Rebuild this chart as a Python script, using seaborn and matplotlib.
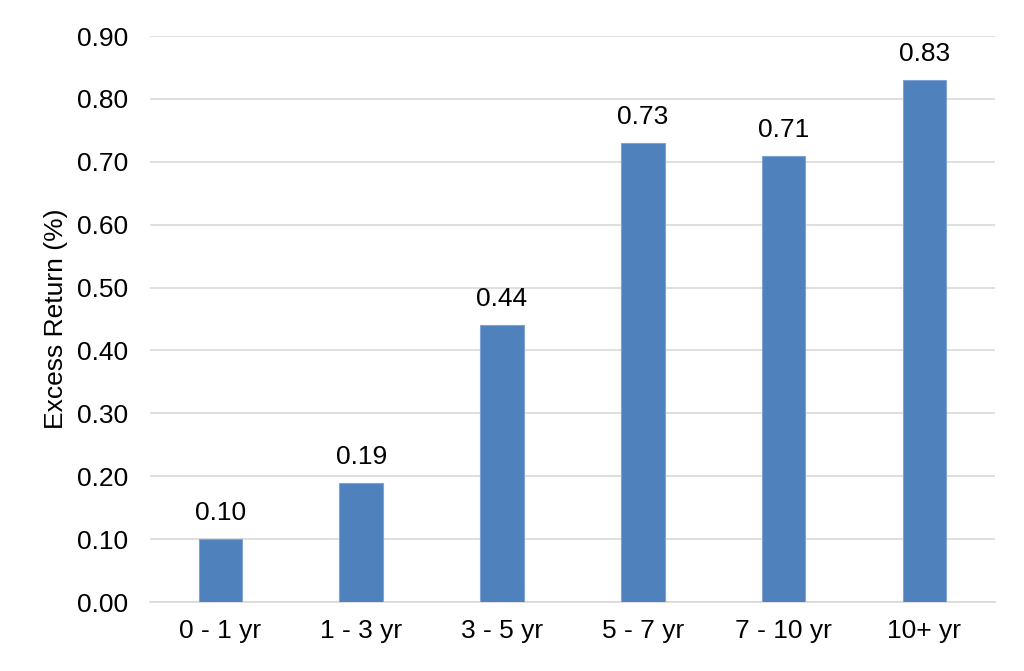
import matplotlib
matplotlib.use("Agg")
import matplotlib.pyplot as plt
import seaborn as sns
import pandas as pd

# ── data ─────────────────────────────────────────────────────────────────────
categories = ["0 - 1 yr", "1 - 3 yr", "3 - 5 yr", "5 - 7 yr", "7 - 10 yr", "10+ yr"]
excess_return = [0.10, 0.19, 0.44, 0.73, 0.71, 0.83]
y_ticks = [0.0, 0.1, 0.2, 0.3, 0.4, 0.5, 0.6, 0.7, 0.8, 0.9]

df = pd.DataFrame({"bucket": categories, "ret": excess_return})

# ── style ────────────────────────────────────────────────────────────────────
sns.set_style("white")
plt.rcParams["font.family"] = ["Liberation Sans", "DejaVu Sans"]
plt.rcParams["text.color"] = "black"
plt.rcParams["axes.labelcolor"] = "black"
plt.rcParams["xtick.color"] = "black"
plt.rcParams["ytick.color"] = "black"

BAR_COLOR = "#4F81BD"
GRID_COLOR = "#D9D9D9"
FS = 19

fig = plt.figure(figsize=(10.24, 6.71), dpi=100)
ax = fig.add_axes([0.1465, 0.1028, 0.825, 0.8435])

sns.barplot(data=df, x="bucket", y="ret", color=BAR_COLOR, saturation=1,
            width=0.31, edgecolor="#7FA4D3", linewidth=0.8, ax=ax, zorder=3)

ax.set_ylim(0, 0.9)
ax.set_yticks(y_ticks)
ax.set_yticklabels([f"{t:.2f}" for t in y_ticks], fontsize=FS)
ax.tick_params(axis="x", labelsize=FS, length=0, pad=12)
ax.tick_params(axis="y", length=0, pad=16)
ax.set_xlabel("")
ax.set_ylabel("Excess Return (%)", fontsize=FS, labelpad=6)
ax.set_xlim(-0.5, len(categories) - 0.5)

ax.yaxis.grid(True, color=GRID_COLOR, linewidth=1.2, zorder=0)
ax.set_axisbelow(True)
for side in ["top", "right", "left"]:
    ax.spines[side].set_visible(False)
ax.spines["bottom"].set_color(GRID_COLOR)
ax.spines["bottom"].set_linewidth(1.2)

# value labels
for container in ax.containers:
    ax.bar_label(container, fmt="%.2f", fontsize=FS, padding=10)

fig.savefig("out.png", dpi=100)
plt.close(fig)
